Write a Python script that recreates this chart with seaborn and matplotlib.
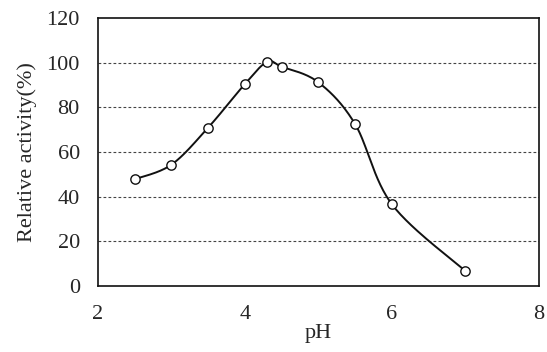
import matplotlib
matplotlib.use("Agg", force=True)
import matplotlib.pyplot as plt
import numpy as np
import pandas as pd
import seaborn as sns

ph = [2.5, 3.0, 3.5, 4.0, 4.3, 4.5, 5.0, 5.5, 6.0, 7.0]
activity = [47.8, 54.3, 70.9, 90.4, 100.3, 98.2, 91.2, 72.5, 36.6, 6.7]
x_ticks = [2, 4, 6, 8]
y_ticks = [0, 20, 40, 60, 80, 100, 120]


def smooth_curve(x, y, steps=30):
    # Bezier segments with control points from neighbouring points (spreadsheet-style smoothing)
    x = np.asarray(x, dtype=float)
    y = np.asarray(y, dtype=float)
    n = len(x)
    xs, ys = [], []
    for i in range(n - 1):
        p0 = np.array([x[max(i - 1, 0)], y[max(i - 1, 0)]])
        p1 = np.array([x[i], y[i]])
        p2 = np.array([x[i + 1], y[i + 1]])
        p3 = np.array([x[min(i + 2, n - 1)], y[min(i + 2, n - 1)]])
        c1 = p1 + (p2 - p0) / 6.0
        c2 = p2 - (p3 - p1) / 6.0
        t = np.linspace(0, 1, steps)[:, None]
        pts = (1 - t) ** 3 * p1 + 3 * (1 - t) ** 2 * t * c1 + 3 * (1 - t) * t ** 2 * c2 + t ** 3 * p2
        xs.extend(pts[:, 0])
        ys.extend(pts[:, 1])
    return pd.DataFrame({"pH": xs, "activity": ys})


sns.set_theme(style="white")
plt.rcParams["font.family"] = ["Liberation Serif", "DejaVu Serif"]

fig = plt.figure(figsize=(5.47, 3.52), dpi=100)
ax = fig.add_axes([0.179, 0.1875, 0.806, 0.7615])

curve = smooth_curve(ph, activity)
points = pd.DataFrame({"pH": ph, "activity": activity})
sns.lineplot(data=curve, x="pH", y="activity", sort=False, color="#111111", linewidth=1.4, ax=ax, zorder=3)
sns.scatterplot(data=points, x="pH", y="activity", marker="o", s=45, facecolor="white",
                edgecolor="#111111", linewidth=1.0, ax=ax, zorder=4)

for yv in y_ticks[1:-1]:
    ax.axhline(yv, color="#444444", linestyle=(0, (2.5, 2)), linewidth=0.8, zorder=1)

ax.set_xlim(2, 8)
ax.set_ylim(0, 120)
ax.set_xticks(x_ticks)
ax.set_yticks(y_ticks)
ax.tick_params(axis="x", direction="in", length=6, width=1, color="#111111", labelsize=16, pad=14)
ax.tick_params(axis="y", length=0, labelsize=16, pad=13)
for spine in ax.spines.values():
    spine.set_color("#111111")
    spine.set_linewidth(1.2)
ax.set_xlabel("pH", fontsize=16, labelpad=0)
ax.set_ylabel("Relative activity(%)", fontsize=16, labelpad=7)

fig.savefig("out.png", dpi=100)
plt.close(fig)
